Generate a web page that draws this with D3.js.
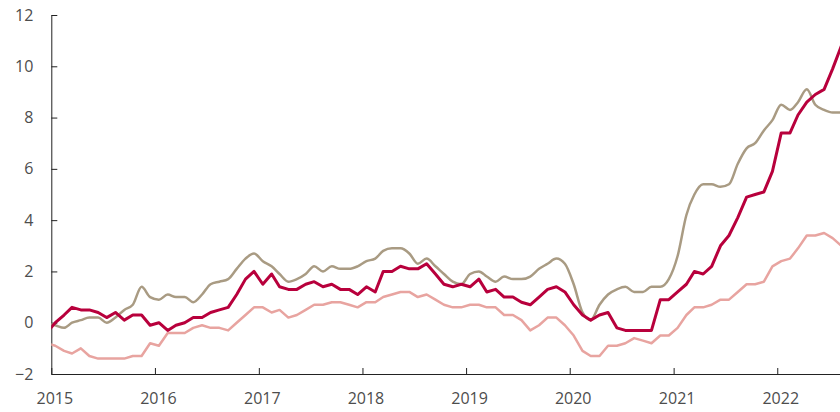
<!DOCTYPE html>
<html>
<head>
<meta charset="utf-8">
<script src="https://cdn.jsdelivr.net/npm/d3@7"></script>
<style>
  body { margin: 0; background: #fff; }
  .axis text { font-family: "Open Sans", sans-serif; font-size: 16px; fill: #4d4d4d; }
  .axis path, .axis line { stroke: #222; stroke-width: 1; }
</style>
</head>
<body>
<svg width="840" height="412"></svg>
<script>
// monthly values, Dec 2014 .. Aug 2022 (first point only feeds the line into the axis)
var startMonth = new Date(2014, 11, 15);

var darkRed = [-0.4,
  0.0, 0.3, 0.6, 0.5, 0.5, 0.4, 0.2, 0.4, 0.1, 0.3, 0.3, -0.1,
  0.0, -0.3, -0.1, 0.0, 0.2, 0.2, 0.4, 0.5, 0.6, 1.1, 1.7, 2.0,
  1.5, 1.9, 1.4, 1.3, 1.3, 1.5, 1.6, 1.4, 1.5, 1.3, 1.3, 1.1,
  1.4, 1.2, 2.0, 2.0, 2.2, 2.1, 2.1, 2.3, 1.9, 1.5, 1.4, 1.5,
  1.4, 1.7, 1.2, 1.3, 1.0, 1.0, 0.8, 0.7, 1.0, 1.3, 1.4, 1.2,
  0.7, 0.3, 0.1, 0.3, 0.4, -0.2, -0.3, -0.3, -0.3, -0.3, 0.9, 0.9,
  1.2, 1.5, 2.0, 1.9, 2.2, 3.0, 3.4, 4.1, 4.9, 5.0, 5.1, 5.9,
  7.4, 7.4, 8.1, 8.6, 8.9, 9.1, 9.9, 10.8];

var tan = [0.0,
  -0.1, -0.2, 0.0, 0.1, 0.2, 0.2, 0.0, 0.2, 0.5, 0.7, 1.4, 1.0,
  0.9, 1.1, 1.0, 1.0, 0.8, 1.1, 1.5, 1.6, 1.7, 2.1, 2.5, 2.7,
  2.4, 2.2, 1.9, 1.6, 1.7, 1.9, 2.2, 2.0, 2.2, 2.1, 2.1, 2.2,
  2.4, 2.5, 2.8, 2.9, 2.9, 2.7, 2.3, 2.5, 2.2, 1.9, 1.6, 1.5,
  1.9, 2.0, 1.8, 1.6, 1.8, 1.7, 1.7, 1.8, 2.1, 2.3, 2.5, 2.3,
  1.5, 0.4, 0.1, 0.7, 1.1, 1.3, 1.4, 1.2, 1.2, 1.4, 1.4, 1.7,
  2.6, 4.2, 5.0, 5.4, 5.4, 5.3, 5.4, 6.2, 6.8, 7.0, 7.5, 7.9,
  8.5, 8.3, 8.6, 9.1, 8.5, 8.3, 8.2, 8.2];

var pink = [-0.8,
  -0.9, -1.1, -1.2, -1.0, -1.3, -1.4, -1.4, -1.4, -1.4, -1.3, -1.3, -0.8,
  -0.9, -0.4, -0.4, -0.4, -0.2, -0.1, -0.2, -0.2, -0.3, 0.0, 0.3, 0.6,
  0.6, 0.4, 0.5, 0.2, 0.3, 0.5, 0.7, 0.7, 0.8, 0.8, 0.7, 0.6,
  0.8, 0.8, 1.0, 1.1, 1.2, 1.2, 1.0, 1.1, 0.9, 0.7, 0.6, 0.6,
  0.7, 0.7, 0.6, 0.6, 0.3, 0.3, 0.1, -0.3, -0.1, 0.2, 0.2, -0.1,
  -0.5, -1.1, -1.3, -1.3, -0.9, -0.9, -0.8, -0.6, -0.7, -0.8, -0.5, -0.5,
  -0.2, 0.3, 0.6, 0.6, 0.7, 0.9, 0.9, 1.2, 1.5, 1.5, 1.6, 2.2,
  2.4, 2.5, 2.9, 3.4, 3.4, 3.5, 3.3, 3.0];

var yTicks = [-2, 0, 2, 4, 6, 8, 10, 12];
var yearTicks = [2015, 2016, 2017, 2018, 2019, 2020, 2021, 2022];

var svg = d3.select("svg");
var margin = {top: 15, right: 0, bottom: 38, left: 51.3};
var width = +svg.attr("width") - margin.left - margin.right;
var height = +svg.attr("height") - margin.top - margin.bottom;

var x = d3.scaleTime()
    .domain([new Date(2015, 0, 1), new Date(2022, 7, 10)])
    .range([0, width]);
var y = d3.scaleLinear().domain([-2, 12]).range([height, 0]);

var g = svg.append("g")
    .attr("transform", "translate(" + margin.left + "," + margin.top + ")");

g.append("clipPath").attr("id", "plot")
  .append("rect")
    .attr("width", width)
    .attr("height", height);

g.append("g")
    .attr("class", "axis axis--x")
    .attr("transform", "translate(0," + height + ")")
    .call(d3.axisBottom(x)
        .tickValues(yearTicks.map(function(yr) { return new Date(yr, 0, 1); }))
        .tickFormat(d3.timeFormat("%Y"))
        .tickSizeInner(-6).tickSizeOuter(0).tickPadding(19))
  .selectAll("text")
    .attr("dx", 3);

g.append("g")
    .attr("class", "axis axis--y")
    .call(d3.axisLeft(y)
        .tickValues(yTicks)
        .tickFormat(function(d) { return d < 0 ? "\u2212" + Math.abs(d) : d; })
        .tickSizeInner(-6).tickSizeOuter(0).tickPadding(18));

function toPoints(values) {
    return values.map(function(v, i) {
        return {date: d3.timeMonth.offset(startMonth, i), value: v};
    });
}

var series = [
    {name: "pink", values: pink, color: "#e8a4a0", width: 2.5, curve: d3.curveLinear},
    {name: "tan", values: tan, color: "#a99b83", width: 2.5, curve: d3.curveMonotoneX},
    {name: "darkRed", values: darkRed, color: "#b8003c", width: 3, curve: d3.curveLinear}
];

series.forEach(function(s) {
    var line = d3.line()
        .curve(s.curve)
        .x(function(d) { return x(d.date); })
        .y(function(d) { return y(d.value); });
    g.append("path")
        .datum(toPoints(s.values))
        .attr("clip-path", "url(#plot)")
        .attr("fill", "none")
        .attr("stroke", s.color)
        .attr("stroke-width", s.width)
        .attr("stroke-linejoin", "round")
        .attr("d", line);
});
</script>
</body>
</html>
